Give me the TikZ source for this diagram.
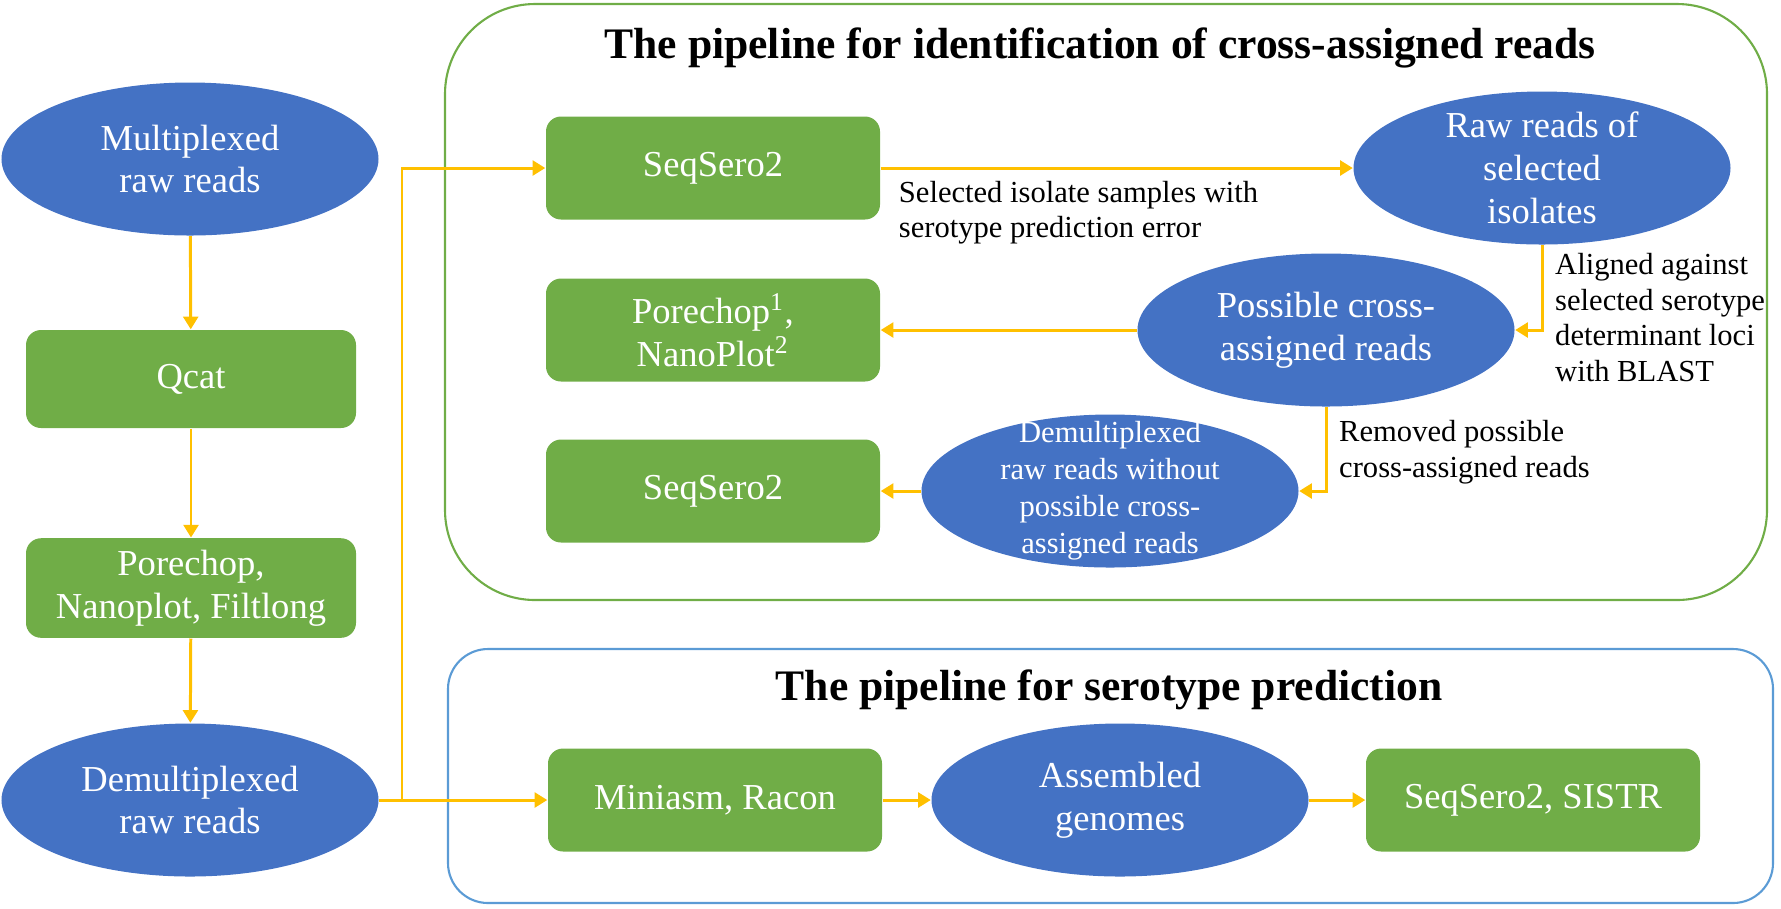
\documentclass[tikz,border=0pt]{standalone}
\usepackage{amsmath}
\usepackage{fontspec}
\setmainfont{Liberation Serif}
\usepackage{tikz}
\usetikzlibrary{arrows.meta,shapes.geometric}

\definecolor{readblue}{HTML}{4472C4}
\definecolor{toolgreen}{HTML}{70AD47}
\definecolor{flowgold}{HTML}{FFC000}
\definecolor{frameblue}{HTML}{5B9BD5}

\begin{document}
\begin{tikzpicture}[
  reads/.style={ellipse, fill=readblue, text=white, minimum width=3.77cm, minimum height=1.53cm,
    inner xsep=0pt, inner ysep=-0.25cm, align=center, font=\fontsize{10.4}{12.2}\selectfont},
  tool/.style={rectangle, rounded corners=0.15cm, fill=toolgreen, text=white, minimum width=3.34cm,
    minimum height=1.03cm, align=center, font=\fontsize{10.4}{12.2}\selectfont},
  flow/.style={-{Triangle[length=3.6pt,width=4.2pt]}, flowgold, line width=0.85pt},
  note/.style={align=left, text=black, font=\fontsize{8.7}{10.1}\selectfont},
  frame/.style={line width=0.6pt},
  heading/.style={font=\fontsize{12.4}{14}\selectfont\bfseries}
]
\useasboundingbox (0,0) rectangle (17.81,-9.08);
%\draw[help lines] (0,0) grid (17.81,-9.08);
\draw[frame, toolgreen, rounded corners=0.9cm] (4.45,-0.04) rectangle (17.67,-6.00);
\draw[frame, frameblue, rounded corners=0.4cm] (4.48,-6.49) rectangle (17.73,-9.03);
\node[heading, anchor=base] (title1) at (11.00,-0.58) {The pipeline for identification of cross-assigned reads};
\node[heading, anchor=base] (title2) at (11.09,-7.00) {The pipeline for serotype prediction};

% left column
\node[reads] (mux) at (1.90,-1.59) {Multiplexed\\raw reads};
\node[tool, minimum width=3.30cm, minimum height=0.98cm] (qcat) at (1.91,-3.79) {Qcat};
\node[tool, minimum width=3.30cm, minimum height=0.98cm] (filt) at (1.91,-5.88) {Porechop,\\Nanoplot, Filtlong};
\node[reads] (demux) at (1.90,-8.00) {Demultiplexed\\raw reads};
\coordinate (split) at (4.02,-8.00);

% cross-assigned pipeline
\node[tool] (seqA) at (7.13,-1.68) {SeqSero2};
\node[reads] (raw) at (15.42,-1.68) {Raw reads of\\selected\\isolates};
\node[tool] (pore) at (7.13,-3.30) {Porechop\textsuperscript{1},\\NanoPlot\textsuperscript{2}};
\node[reads] (poss) at (13.26,-3.30) {Possible cross-\\assigned reads};
\node[tool] (seqB) at (7.13,-4.91) {SeqSero2};
\node[reads, font=\fontsize{8.7}{10.5}\selectfont] (clean) at (11.10,-4.91)
  {Demultiplexed\\raw reads without\\possible cross-\\assigned reads};

% serotype pipeline
\node[tool] (mini) at (7.15,-8.00) {Miniasm, Racon};
\node[reads] (asm) at (11.20,-8.00) {Assembled\\genomes};
\node[tool] (sistr) at (15.33,-8.00) {SeqSero2, SISTR};

\draw[flow] (mux) -- (qcat);
\draw[flow] (qcat) -- (filt);
\draw[flow] (filt) -- (demux);
\draw[flow] (demux) -- (mini);
\draw[flow] (split) |- (seqA);
\draw[flow] (seqA) -- node[pos=0, note, anchor=north west, xshift=0.05cm]
  {Selected isolate samples with\\serotype prediction error} (raw);
\draw[flow] (raw.south) |- node[pos=0, note, anchor=north west, yshift=0.05cm]
  {Aligned against\\selected serotype\\determinant loci\\with BLAST} (poss.east);
\draw[flow] (poss) -- (pore);
\draw[flow] (poss.south) |- node[pos=0, note, anchor=north west]
  {Removed possible\\cross-assigned reads} (clean.east);
\draw[flow] (clean) -- (seqB);
\draw[flow] (mini) -- (asm);
\draw[flow] (asm) -- (sistr);
\end{tikzpicture}
\end{document}
